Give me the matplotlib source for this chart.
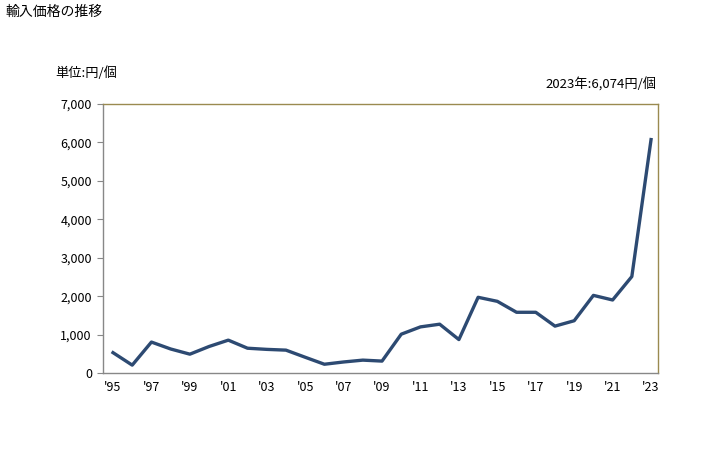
import matplotlib
matplotlib.use('Agg')
import matplotlib.pyplot as plt
from matplotlib.ticker import FuncFormatter

plt.rcParams['font.family'] = ['Noto Sans CJK JP', 'DejaVu Sans']

# Data
years = list(range(1995, 2024))
prices = [530, 205, 805, 625, 490, 690, 855, 645, 615, 595, 410, 228, 287, 335, 310,
          1010, 1200, 1270, 870, 1970, 1865, 1580, 1580, 1220, 1360, 2020, 1900, 2510, 6074]
tick_years = list(range(1995, 2024, 2))
tick_labels = ["'%02d" % (y % 100) for y in tick_years]

fig = plt.figure(figsize=(7.28, 4.5), dpi=100)
ax = fig.add_axes([0.1415, 0.1711, 0.7623, 0.5978])

ax.plot(years, prices, color='#2d4a72', linewidth=2.4, solid_joinstyle='round')

ax.set_xlim(1994.48, 2023.36)
ax.set_ylim(0, 7000)
ax.set_yticks(range(0, 7001, 1000))
ax.yaxis.set_major_formatter(FuncFormatter(lambda v, p: f'{int(v):,}'))
ax.set_xticks(tick_years)
ax.set_xticklabels(tick_labels)

ax.tick_params(axis='y', length=4, width=0.8, color='#888888', labelsize=9, pad=4)
ax.tick_params(axis='x', length=0, labelsize=9, pad=6)

for side in ['left', 'bottom']:
    ax.spines[side].set_color('#888888')
    ax.spines[side].set_linewidth(1.0)
for side in ['top', 'right']:
    ax.spines[side].set_color('#9a8a50')
    ax.spines[side].set_linewidth(1.0)

fig.text(5 / 728, 1 - 12 / 450, '輸入価格の推移', fontsize=10, va='center', ha='left')
fig.text(55 / 728, 1 - 73 / 450, '単位:円/個', fontsize=9.5, va='center', ha='left')
fig.text(656 / 728, 1 - 85 / 450, '2023年:6,074円/個', fontsize=9.5, va='center', ha='right')

fig.savefig('out.png', dpi=100)
